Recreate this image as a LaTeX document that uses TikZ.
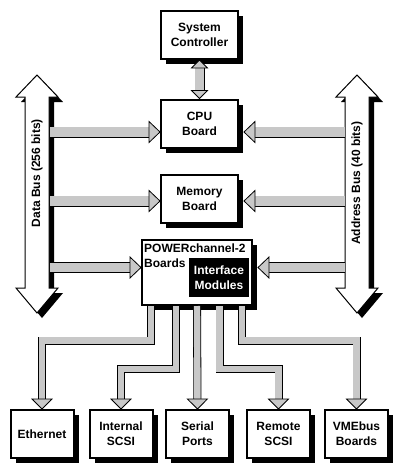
\documentclass[tikz,border=0pt]{standalone}
\usepackage{fontspec}
\setmainfont{Liberation Sans}
\usetikzlibrary{calc, positioning, shadows, decorations.markings}
\definecolor{linkgray}{HTML}{C8C8C8}
\newcommand\boxfont{\fontsize{12}{15}\selectfont\bfseries}
% Umriss eines Busses (Doppelpfeil), x = Mitte
\newcommand\buspath[1]{(#1,75) -- (#1+21,97) -- (#1+12,97) -- (#1+12,288) -- (#1+21,288)
  -- (#1,313) -- (#1-21,288) -- (#1-12,288) -- (#1-12,97) -- (#1-21,97) -- cycle}
% Pfeilspitze der grauen Verbindungen
\newcommand\linkhead[3][]{\filldraw[#1, fill=linkgray, draw=black, line width=0.8pt,
  line join=miter] (0,0) -- (-#3,#2) -- (-#3,-#2) -- cycle;}

\tikzset{
  box/.style={draw, line width=2pt, fill=white, minimum width=77pt, minimum height=48pt,
    inner sep=2pt, align=center, font=\boxfont,
    drop shadow={shadow xshift=5pt, shadow yshift=-5pt, fill=black, opacity=1}},
  smallbox/.style={box, minimum width=63pt},
  link/.style n args={3}{draw, line width=0.8pt, double=linkgray, double distance=#1,
    line join=miter, shorten >=#3,
    postaction={decorate, decoration={markings, mark=at position 1 with {\linkhead{#2}{#3}}}}},
  widelink/.style={link={9.4pt}{10.5pt}{11pt}},
  thinlink/.style={link={6.4pt}{10pt}{10pt}},
  twoway/.style={draw, line width=0.8pt, double=linkgray, double distance=8.4pt,
    line join=miter, shorten >=8pt, shorten <=8pt,
    postaction={decorate, decoration={markings,
      mark=at position 0 with {\linkhead[xscale=-1]{8pt}{8pt}},
      mark=at position 1 with {\linkhead{8pt}{8pt}}}}},
}

\begin{document}
\begin{tikzpicture}[x=1pt, y=-1pt]
  \useasboundingbox[fill=white] (0,0) rectangle (404,475);

  % Datenbus und Adressbus
  \foreach \bx in {37,357} {
    \fill[shift={(5,5)}] \buspath{\bx};
    \draw[line width=1pt, fill=white, line join=miter] \buspath{\bx};
  }
  \node[rotate=90, font=\boxfont] (dlabel) at (37,173) {Data Bus (256 bits)};
  \node[rotate=90, font=\boxfont] (alabel) at (357,183) {Address Bus (40 bits)};

  % Boards
  \node[box] (sc) at (199.5,35) {System\\Controller};
  \node[box] (cpu) at (199.5,123.5) {CPU\\Board};
  \node[box] (mem) at (199.5,199) {Memory\\Board};
  \node[box, minimum width=110pt, minimum height=65pt] (pw) at (197,272.5) {};
  \node[anchor=north west, font=\boxfont, align=left, inner sep=0pt] (pwtext)
    at ([shift={(3pt,-5pt)}]pw.north west) {POWERchannel-2\\Boards};
  \node[fill=black, text=white, font=\boxfont, minimum width=60pt, minimum height=39pt,
    inner sep=1pt, align=center] (ifm) at (219,277.5) {Interface\\Modules};

  \node[smallbox] (eth) at (42,434) {Ethernet};
  \node[smallbox] (isc) at (121,434) {Internal\\SCSI};
  \node[smallbox] (ser) at (197.5,434) {Serial\\Ports};
  \node[smallbox] (rem) at (278.5,434) {Remote\\SCSI};
  \node[smallbox] (vme) at (356.5,434) {VMEbus\\Boards};

  % Abgriffe an den Bussen
  \coordinate (d1) at (50,132);
  \coordinate (d2) at (50,201);
  \coordinate (d3) at (50,267.5);
  \coordinate (a1) at (345,132);
  \coordinate (a2) at (345,201);
  \coordinate (a3) at (345,267.5);

  \draw[widelink] (d1) -- (d1 -| cpu.west);
  \draw[widelink] (d2) -- (d2 -| mem.west);
  \draw[widelink] (d3) -- (d3 -| pw.west);
  \draw[widelink] (a1) -- ($(a1 -| cpu.east)+(5,0)$);
  \draw[widelink] (a2) -- ($(a2 -| mem.east)+(5,0)$);
  \draw[widelink] (a3) -- ($(a3 -| pw.east)+(5,0)$);
  \draw[twoway] (sc.south) -- (cpu.north);

  % Ausgaenge der POWERchannel-2 Boards
  \draw[thinlink] ([xshift=-46pt]pw.south) -- ++(0,34.5) -| (eth.north);
  \draw[thinlink] ([xshift=-21pt]pw.south) -- ++(0,63) -| (isc.north);
  \draw[thinlink] (pw.south) -- (ser.north);
  \draw[thinlink] ([xshift=22.5pt]pw.south) -- ++(0,63) -| (rem.north);
  \draw[thinlink] ([xshift=45pt]pw.south) -- ++(0,34.5) -| (vme.north);
\end{tikzpicture}
\end{document}
